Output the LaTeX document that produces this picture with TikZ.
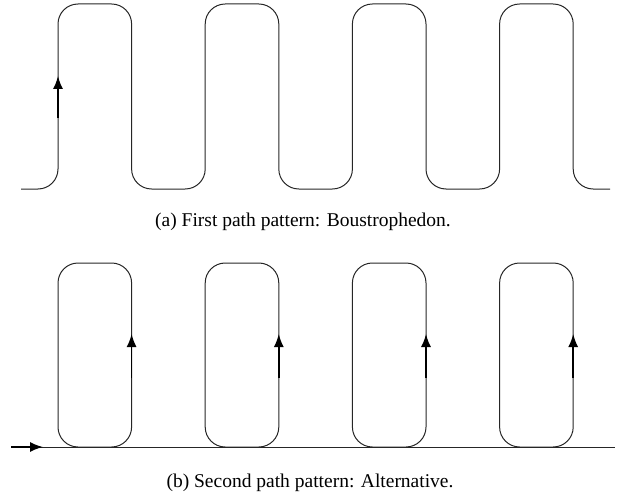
\documentclass[tikz,border=0pt]{standalone}
\usepackage{fontspec}
\setmainfont{Liberation Serif}
\usetikzlibrary{arrows.meta}
\begin{document}
\begin{tikzpicture}[x=1pt,y=-1pt,
  trackline/.style={line width=1pt, draw=black!85, rounded corners=20pt},
  dirarrow/.style={line width=1.5pt, -{Latex[length=13pt,width=10pt]}},
  captext/.style={anchor=base, font=\fontsize{19.5}{23}\selectfont, inner sep=0pt}]
\useasboundingbox (0,0) rectangle (624,495);
% (a) boustrophedon
\coordinate (s) at (21,189);
\coordinate (e) at (610,189);
\draw[trackline] (s) -- (58,189) -- (58,4) -- (131.6,4) -- (131.6,189) -- (205.2,189) -- (205.2,4)
  -- (278.8,4) -- (278.8,189) -- (352.4,189) -- (352.4,4) -- (426,4) -- (426,189)
  -- (499.6,189) -- (499.6,4) -- (573.2,4) -- (573.2,189) -- (e);
\coordinate (a1) at (58,118);
\coordinate (a2) at (58,76);
\draw[dirarrow] (a1) -- (a2);
\node[captext] (capa) at (303,226) {(a) First path pattern: Boustrophedon.};
% (b) alternative
\coordinate (bs) at (11,447);
\coordinate (bt) at (43,447);
\coordinate (be) at (615,447);
\draw[line width=1pt, draw=black!85] (bs) -- (be);
\draw[dirarrow] (bs) -- (bt);
\foreach \xl/\xr/\n in {58/131.6/1, 205.2/278.8/2, 352.4/426/3, 499.6/573.2/4}{
  \draw[trackline] (\xl,263) rectangle (\xr,447);
  \coordinate (l\n a) at (\xr,378);
  \coordinate (l\n b) at (\xr,334);
  \draw[dirarrow] (l\n a) -- (l\n b);
}
\node[captext] (capb) at (310,487) {(b) Second path pattern: Alternative.};
\end{tikzpicture}
\end{document}
